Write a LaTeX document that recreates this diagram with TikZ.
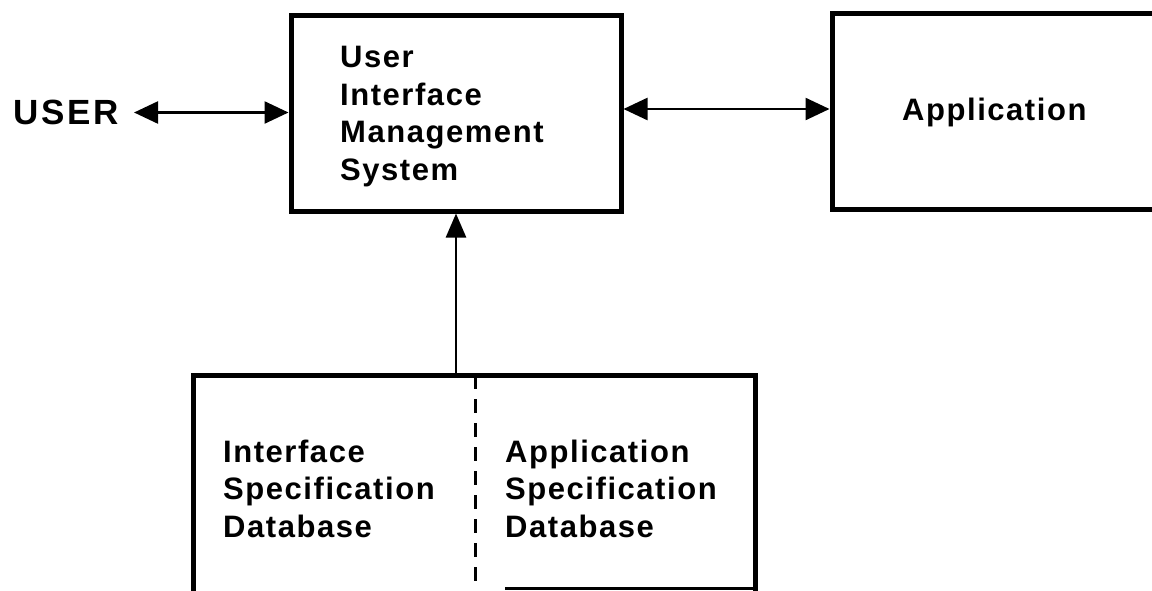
\documentclass[tikz,border=0pt]{standalone}
\usepackage{fontspec}
\setmainfont{Liberation Sans}[LetterSpace=5]
\usetikzlibrary{arrows.meta}
\begin{document}
\begin{tikzpicture}[x=1pt,y=-1pt,
  box/.style={draw,line width=5pt,rectangle,inner sep=0pt},
  lbl/.style={inner sep=0pt,anchor=base west,align=left,
    font=\fontsize{31}{37.5}\selectfont\bfseries},
  conn/.style={line width=2.5pt,{Triangle[length=24pt,width=22pt]}-{Triangle[length=24pt,width=22pt]}},
  conn1/.style={line width=2.5pt,-{Triangle[length=24pt,width=20pt]}}]
\useasboundingbox (0,0) rectangle (1152,590);
\clip (0,0) rectangle (1152,590);
\fill[white] (0,0) rectangle (1152,590);
% boxes
\node[box,minimum width=330pt,minimum height=196pt] (uims) at (456,113) {};
\node[box,minimum width=338pt,minimum height=196pt] (app) at (1001,111) {};
\node[box,minimum width=562pt,minimum height=250pt] (bot) at (474,500) {};
% labels
\node[lbl,font=\fontsize{35}{40}\selectfont\addfontfeature{LetterSpace=8}\bfseries,anchor=west] (user) at (13,112.5) {USER};
\node[lbl] (uimst) at (340,180) {User\\Interface\\Management\\System};
\node[lbl] (appt) at (902,120) {Application};
\node[lbl] (ist) at (223,537) {Interface\\Specification\\Database};
\node[lbl] (ast) at (505,537) {Application\\Specification\\Database};
% divider inside bottom box
\coordinate (dtop) at (475,375);
\coordinate (dbot) at (475,590);
\draw[line width=3pt,dash pattern=on 14pt off 10pt] (dtop) -- (dbot);
\coordinate (bl) at (505,588);
\draw[line width=3pt] (bl) -- (bl -| bot.east);
% connectors
\draw[conn] ([xshift=15pt]user.east) -- (user.east -| uims.west);
\draw[conn] ([yshift=4pt]uims.east) -- ([yshift=4pt]uims.east -| app.west);
\draw[conn1] (uims.south |- bot.north) -- (uims.south);
\end{tikzpicture}
\end{document}
